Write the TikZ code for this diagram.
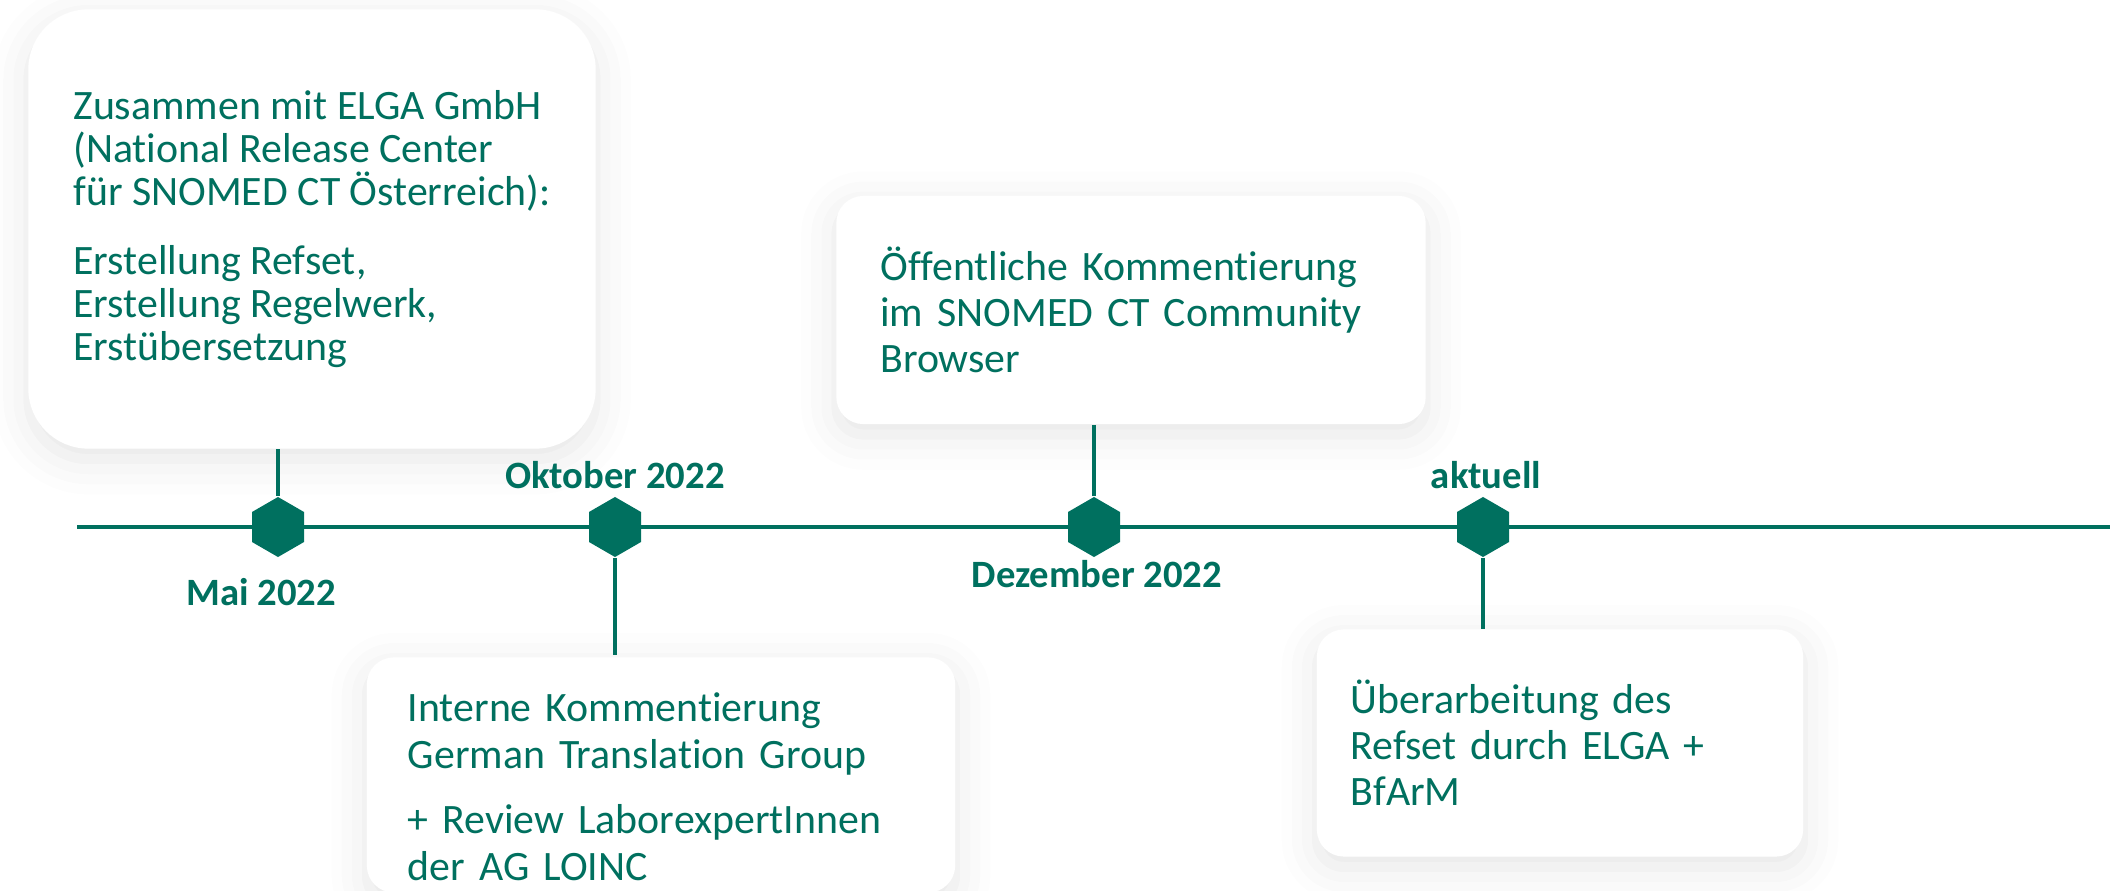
\documentclass[tikz,border=0pt]{standalone}
\usepackage{fontspec}
\setmainfont{Carlito}[Ligatures=NoCommon]
\usetikzlibrary{positioning, shapes.geometric, shadows.blur}
\definecolor{elgagreen}{HTML}{00705F}

\begin{document}
\begin{tikzpicture}[x=0.01cm, y=-0.01cm]
	\tikzstyle{box} = [rectangle, fill=white, rounded corners=0.27cm, text=elgagreen, align=left, inner xsep=0.42cm, font=\fontsize{11.9}{13.1}\selectfont, blur shadow={shadow xshift=0pt, shadow yshift=-3pt, shadow blur radius=10pt, shadow opacity=10}]
	\tikzstyle{hex} = [regular polygon, regular polygon sides=6, shape border rotate=30, fill=elgagreen, minimum size=0.6cm, inner sep=0pt]
	\tikzstyle{date} = [text=elgagreen, font=\bfseries\fontsize{11}{13}\selectfont]
	\tikzstyle{stem} = [draw=elgagreen, line width=1.3pt]
	
	\useasboundingbox (0,0) rectangle (2118,891);
	
	% boxes
	\node [box, rounded corners=0.6cm, minimum width=5.67cm, minimum height=4.39cm, font=\fontsize{11.9}{12.2}\selectfont] (zusammen) at (312,229)
		{Zusammen mit ELGA GmbH\\(National Release Center\\für SNOMED CT Österreich):\\[0.26cm]Erstellung Refset,\\Erstellung Regelwerk,\\Erstübersetzung};
	\node [box, text width=5.06cm, minimum height=2.27cm, inner xsep=0.41cm, font=\fontsize{11.9}{13.4}\selectfont] (intern) at (661,775)
		{\rule{0pt}{0.52cm}Interne Kommentierung\\German Translation Group\\[0.18cm]+ Review LaborexpertInnen\\der AG LOINC};
	\node [box, text width=5.01cm, minimum height=2.28cm, inner xsep=0.44cm] (oeffentlich) at (1131,310)
		{Öffentliche Kommentierung\\im SNOMED CT Community\\Browser};
	\node [box, text width=4.18cm, minimum height=2.27cm, inner xsep=0.34cm] (ueberarbeitung) at (1560,743)
		{Überarbeitung des\\Refset durch ELGA +\\BfArM};
	
	% timeline
	\coordinate (start) at (77,527);
	\coordinate (end) at (2110,527);
	\draw [stem] (start) -- (end);
	
	\node [hex] (mai) at (278,527) {};
	\node [hex] (oktober) at (615,527) {};
	\node [hex] (dezember) at (1094,527) {};
	\node [hex] (aktuell) at (1483,527) {};
	
	\node [date] (maitext) at (261,592) {Mai 2022};
	\node [date] (oktobertext) at (615,475) {Oktober 2022};
	\node [date] (dezembertext) at (1097,574) {Dezember 2022};
	\node [date] (aktuelltext) at (1486,475) {aktuell};
	
	\coordinate (internstem) at (615,655);
	\draw [stem] (zusammen.south -| mai) -- (mai);
	\draw [stem] (oktober) -- (internstem);
	\draw [stem] (oeffentlich.south -| dezember) -- (dezember);
	\draw [stem] (aktuell) -- (ueberarbeitung.north -| aktuell);
\end{tikzpicture}
\end{document}
